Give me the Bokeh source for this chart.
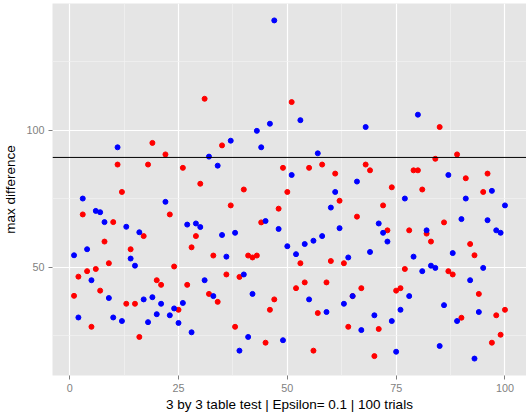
from bokeh.plotting import figure
from bokeh.models import Range1d, FixedTicker, Span, ColumnDataSource
from bokeh.embed import file_html
from bokeh.resources import INLINE

trials = list(range(1, 101))

red_values = [
    39.5, 46.5, 69.2, 48.5, 28.2, 49.3, 41.4, 59.3, 51.4, 66.4,
    87.4, 77.4, 36.6, 56.5, 36.6, 24.5, 61.3, 87.4, 95.3, 45.2,
    43.5, 91.1, 69.2, 50.2, 34.4,
    86.2, 43.5, 57.2, 61.3, 80.4, 111.4, 40.2, 54.2, 37.3, 94.4,
    47.3, 72.5, 28.2, 46.4, 78.3, 54.2, 53.5, 54.2, 66.3, 22.4,
    34.4, 38.2, 71.3, 86.2, 77.4,
    110.2, 42.3, 51.4, 44.4, 86.2, 19.5, 33.2, 87.4, 44.4, 52.2,
    84.1, 74.2, 51.4, 28.2, 39.4, 68.4, 42.3, 87.4, 85.3, 17.5,
    27.4, 72.5, 63.4, 79.1, 41.4,
    42.3, 49.3, 63.4, 85.3, 85.3, 78.3, 62.2, 59.3, 89.5, 101.1,
    66.3, 48.5, 47.3, 91.1, 31.5, 82.4, 58.4, 54.3, 40.2, 77.4,
    84.1, 22.4, 32.4, 25.3, 34.4,
]

blue_values = [
    54.3, 31.6, 75.0, 56.5, 45.2, 70.5, 70.0, 66.4, 38.7, 31.6,
    93.7, 30.3, 64.7, 53.1, 50.5, 62.7, 38.2, 29.9, 39.0, 32.8,
    36.6, 73.8, 32.4, 34.9, 29.6,
    36.9, 65.5, 26.2, 65.9, 64.6, 45.2, 90.3, 39.4, 87.0, 61.7,
    53.8, 96.1, 62.5, 19.5, 47.3, 24.5, 40.2, 99.7, 93.7, 66.8,
    102.3, 140.0, 63.9, 23.3, 57.6,
    83.6, 54.7, 103.6, 58.4, 38.2, 59.6, 91.5, 61.3, 33.6, 71.7,
    77.4, 64.2, 36.6, 53.5, 39.4, 81.2, 27.0, 101.1, 55.5, 32.4,
    65.9, 62.5, 59.3, 30.3, 19.1,
    34.4, 75.0, 39.4, 53.8, 105.6, 48.5, 63.4, 50.5, 49.7, 21.2,
    36.1, 83.6, 55.1, 30.3, 67.5, 75.0, 45.2, 16.6, 33.6, 49.7,
    67.1, 77.8, 63.4, 62.5, 72.5,
]

threshold = 90
x_ticks = [0, 25, 50, 75, 100]
y_ticks = [50, 100]
x_minor = [12.5, 37.5, 62.5, 87.5]
y_minor = [25, 75, 125]

x_title = "3 by 3 table test | Epsilon= 0.1 | 100 trials"
y_title = "max difference"

allv = red_values + blue_values
ymin, ymax = min(allv), max(allv)
ypad = (ymax - ymin) * 0.05
xpad = (max(trials) - min(trials)) * 0.05

p = figure(width=526, height=416, output_backend="svg", toolbar_location=None,
           x_range=Range1d(min(trials) - xpad, max(trials) + xpad),
           y_range=Range1d(ymin - ypad, ymax + ypad),
           min_border_left=48, min_border_right=0, min_border_top=3, min_border_bottom=41)

p.background_fill_color = "#E5E5E5"
p.border_fill_color = "white"
p.outline_line_color = None

p.xaxis.ticker = FixedTicker(ticks=x_ticks, minor_ticks=x_minor)
p.yaxis.ticker = FixedTicker(ticks=y_ticks, minor_ticks=y_minor)
for g in (p.xgrid, p.ygrid):
    g.grid_line_color = "white"
    g.grid_line_width = 1.2
    g.minor_grid_line_color = "#F2F2F2"
    g.minor_grid_line_width = 0.7

for ax in (p.xaxis, p.yaxis):
    ax.axis_line_color = None
    ax.major_tick_line_color = "#7F7F7F"
    ax.major_tick_in = 0
    ax.major_tick_out = 4
    ax.minor_tick_line_color = None
    ax.major_label_text_font = "Liberation Sans"
    ax.major_label_text_font_size = "10.8px"
    ax.major_label_text_color = "#7F7F7F"
    ax.axis_label_text_font = "Liberation Sans"
    ax.axis_label_text_font_size = "13.5px"
    ax.axis_label_text_font_style = "normal"
    ax.axis_label_text_color = "black"
    ax.major_label_standoff = 4

p.xaxis.axis_label = x_title
p.yaxis.axis_label = y_title
p.xaxis.axis_label_standoff = 2
p.yaxis.axis_label_standoff = 5

red_src = ColumnDataSource(dict(x=trials, y=red_values))
blue_src = ColumnDataSource(dict(x=trials, y=blue_values))
p.scatter("x", "y", source=red_src, size=5, color="#FF0000")
p.scatter("x", "y", source=blue_src, size=5, color="#0000FF")

p.add_layout(Span(location=threshold, dimension="width", line_color="black", line_width=1))

open("out.html", "w").write(file_html(p, INLINE))
